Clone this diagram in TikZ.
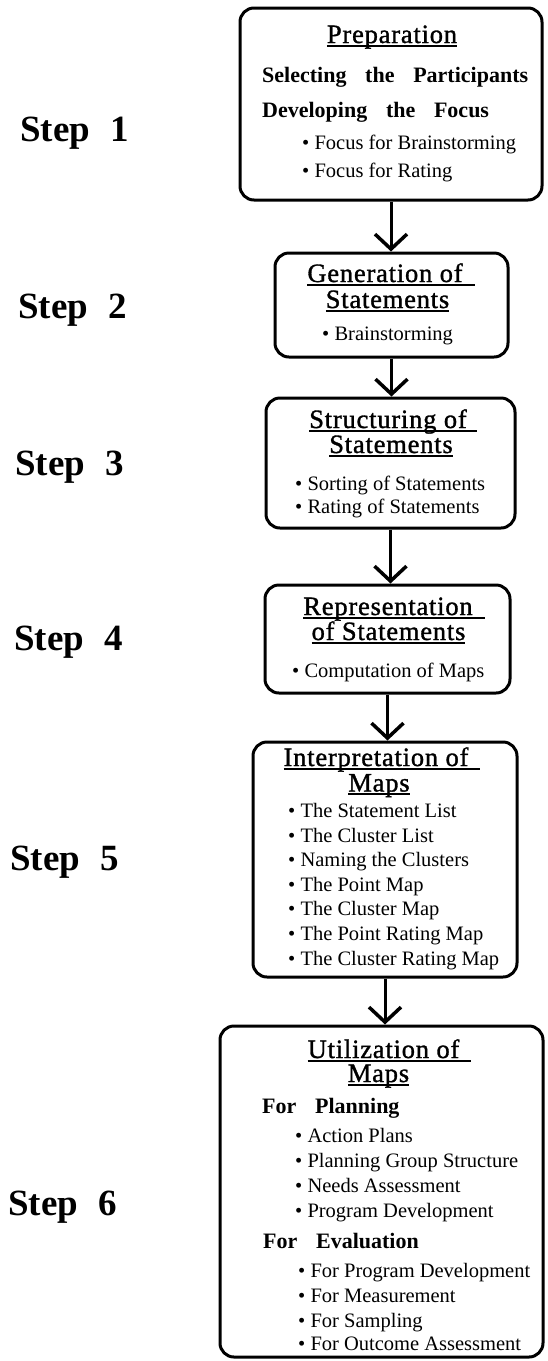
\documentclass[tikz,border=0pt]{standalone}
\usepackage{fontspec}
\setmainfont{Liberation Serif}
\newfontfamily\headfam{Liberation Serif}[LetterSpace=3,FakeBold=1.2]
\usetikzlibrary{arrows.meta}

\newcommand{\wordgap}{\hspace{0.85em}}
\newcommand{\stepgap}{\hspace{0.55em}}
% underlined heading, optional extra length of the rule after the text
\newcommand{\ulhead}[2][0pt]{\leavevmode\setbox0=\hbox{#2}%
	\rlap{\rule[-3.5pt]{\dimexpr\wd0+#1\relax}{2pt}}%
	\hbox to \dimexpr\wd0+#1\relax{\box0\hss}}

\tikzset{
	stagebox/.style={draw, line width=3pt, rounded corners=14pt, inner sep=0pt},
	stagehead/.style={anchor=base, inner sep=0pt, font=\headfam\fontsize{26.5}{29}\selectfont},
	stagesub/.style={anchor=base west, inner sep=0pt, font=\bfseries\fontsize{22}{26}\selectfont},
	stageitem/.style={anchor=base west, inner sep=0pt, font=\fontsize{20.5}{24}\selectfont},
	steplabel/.style={anchor=base west, inner sep=0pt, font=\bfseries\fontsize{37}{42}\selectfont},
	flowarrow/.style={line width=3pt, -{Straight Barb[length=15pt,width=32pt,line width=3.5pt]}}
}

\begin{document}
\begin{tikzpicture}[x=1pt, y=-1pt]
	\useasboundingbox (0,0) rectangle (547,1361);

	% the six stages
	\node[stagebox, minimum width=302pt, minimum height=192pt] (prep) at (391,104) {};
	\node[stagebox, minimum width=233pt, minimum height=104pt] (gen) at (391.5,305) {};
	\node[stagebox, minimum width=249pt, minimum height=130pt] (struct) at (390.5,463) {};
	\node[stagebox, minimum width=245pt, minimum height=108pt] (repr) at (387.5,639) {};
	\node[stagebox, minimum width=264pt, minimum height=235pt] (interp) at (385,859.5) {};
	\node[stagebox, minimum width=323pt, minimum height=331pt] (util) at (381.5,1191.5) {};

	\draw[flowarrow] (prep.south) -- (prep.south |- gen.north);
	\draw[flowarrow] (gen.south) -- (gen.south |- struct.north);
	\draw[flowarrow] (struct.south) -- (struct.south |- repr.north);
	\draw[flowarrow] (repr.south) -- (repr.south |- interp.north);
	\draw[flowarrow] (interp.south) -- (interp.south |- util.north);

	% step labels
	\node[steplabel] (step1) at (20,141) {Step\stepgap 1};
	\node[steplabel] (step2) at (18,318) {Step\stepgap 2};
	\node[steplabel] (step3) at (15,475) {Step\stepgap 3};
	\node[steplabel] (step4) at (14,650) {Step\stepgap 4};
	\node[steplabel] (step5) at (10,870) {Step\stepgap 5};
	\node[steplabel] (step6) at (8,1215) {Step\stepgap 6};

	% step 1
	\node[stagehead] (prep-title) at (392,43) {\ulhead{Preparation}};
	\node[stagesub] (prep-select) at (262,82) {Selecting\wordgap the\wordgap Participants};
	\node[stagesub] (prep-focus) at (262,117) {Developing\wordgap the\wordgap Focus};
	\node[stageitem] (prep-brain) at (302,149) {\textbullet\ Focus for Brainstorming};
	\node[stageitem] (prep-rate) at (302,177) {\textbullet\ Focus for Rating};

	% step 2
	\node[stagehead] (gen-title) at (391,282) {\ulhead[12pt]{Generation of}};
	\node[stagehead] (gen-title2) at (387.5,308) {\ulhead{Statements}};
	\node[stageitem] (gen-brain) at (322,340) {\textbullet\ Brainstorming};

	% step 3
	\node[stagehead] (struct-title) at (393,428) {\ulhead[10pt]{Structuring of}};
	\node[stagehead] (struct-title2) at (391,453) {\ulhead{Statements}};
	\node[stageitem] (struct-sort) at (295,490) {\textbullet\ Sorting of Statements};
	\node[stageitem] (struct-rate) at (295,513) {\textbullet\ Rating of Statements};

	% step 4
	\node[stagehead] (repr-title) at (394,615) {\ulhead[12pt]{Representation}};
	\node[stagehead] (repr-title2) at (388.5,640) {\ulhead{of Statements}};
	\node[stageitem] (repr-maps) at (292,677) {\textbullet\ Computation of Maps};

	% step 5
	\node[stagehead] (interp-title) at (382,766) {\ulhead[12pt]{Interpretation of}};
	\node[stagehead] (interp-title2) at (379,791.5) {\ulhead{Maps}};
	\foreach \y/\txt in {817.5/The Statement List, 842/The Cluster List, 866.5/Naming the Clusters,
			891/The Point Map, 915.5/The Cluster Map, 940/The Point Rating Map, 965/The Cluster Rating Map}
		\node[stageitem] (interp-\y) at (288,\y) {\textbullet\ \txt};

	% step 6
	\node[stagehead] (util-title) at (389.5,1058) {\ulhead[12pt]{Utilization of}};
	\node[stagehead] (util-title2) at (378.5,1082) {\ulhead{Maps}};
	\node[stagesub] (util-plan) at (262,1113) {For\wordgap Planning};
	\foreach \y/\txt in {1142/Action Plans, 1167/Planning Group Structure, 1192/Needs Assessment, 1217/Program Development}
		\node[stageitem] (plan-\y) at (295,\y) {\textbullet\ \txt};
	\node[stagesub] (util-eval) at (263,1248) {For\wordgap Evaluation};
	\foreach \y/\txt in {1277/For Program Development, 1302/For Measurement, 1327/For Sampling, 1350/For Outcome Assessment}
		\node[stageitem] (eval-\y) at (298,\y) {\textbullet\ \txt};
\end{tikzpicture}
\end{document}
